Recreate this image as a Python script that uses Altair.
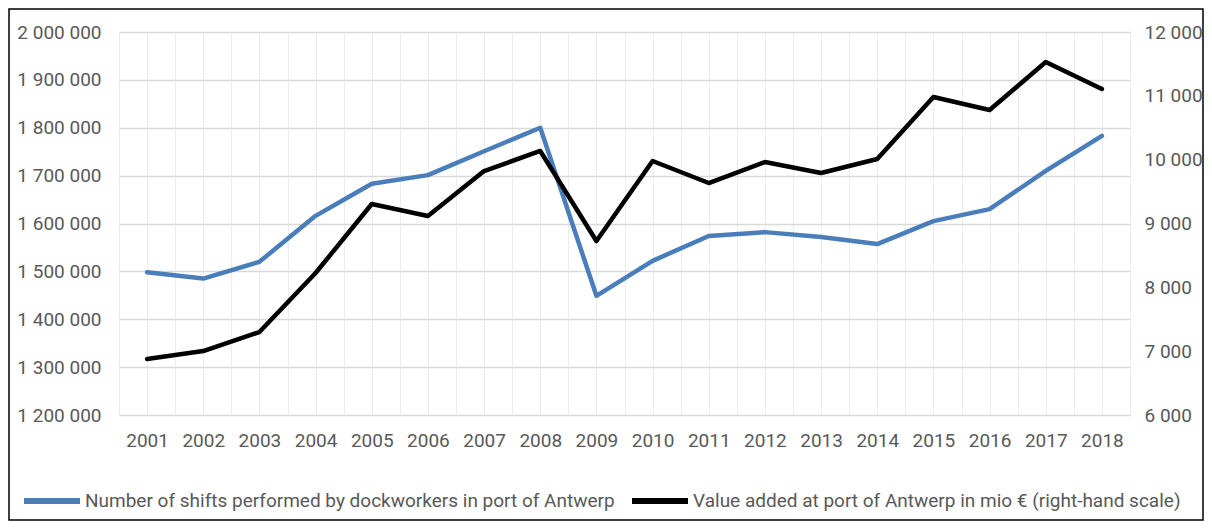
import altair as alt
import pandas as pd

years = list(range(2001, 2019))
shifts = [1498000, 1485000, 1520000, 1616000, 1683000, 1701000, 1751000, 1800000,
          1449000, 1522000, 1574000, 1582000, 1572000, 1557000, 1605000, 1630000,
          1710000, 1783000]
value_added = [6877, 7002, 7300, 8224, 9305, 9117, 9822, 10136, 8726, 9979, 9634,
               9963, 9791, 10010, 10982, 10778, 11530, 11107]
series_names = ["Number of shifts performed by dockworkers in port of Antwerp",
                "Value added at port of Antwerp in mio € (right-hand scale)"]
series_colors = ["#4a7ebb", "#000000"]
left_ticks = list(range(1200000, 2000001, 100000))
right_ticks = list(range(6000, 12001, 1000))

df = pd.DataFrame({"year": years, "shifts": shifts, "value_added": value_added})

FONT = "Roboto"
GREY = "#595959"
FS = 19
space_fmt = "replace(format(datum.value, ','), regexp(',', 'g'), ' ')"

x_values = sorted(set([y - 0.5 for y in years] + [float(y) for y in years] + [years[-1] + 0.5]))
x_enc = alt.X("year:Q",
              scale=alt.Scale(domain=[years[0] - 0.5, years[-1] + 0.5], nice=False, zero=False),
              axis=alt.Axis(values=x_values, format=".1f",
                            labelExpr="datum.value % 1 == 0 ? format(datum.value, 'd') : ''",
                            grid=True, gridColor="#ececec", gridWidth=1,
                            ticks=False, domain=False, labelPadding=16, labelOverlap=False,
                            title=None, labelFontSize=FS, labelColor=GREY, labelFont=FONT))

color_enc = alt.Color("series:N",
                      scale=alt.Scale(domain=series_names, range=series_colors),
                      legend=alt.Legend(title=None, orient="none", direction="horizontal",
                                        legendX=-98, legendY=438,
                                        symbolType="stroke", symbolSize=3136,
                                        symbolStrokeWidth=6, labelFontSize=19,
                                        labelColor=GREY, labelFont=FONT, labelLimit=0,
                                        labelOffset=2, columnPadding=5))

base = alt.Chart(df)

left = base.transform_calculate(series=f"'{series_names[0]}'").mark_line(
    strokeWidth=4.5, strokeJoin="round", strokeCap="round").encode(
    x=x_enc,
    y=alt.Y("shifts:Q", scale=alt.Scale(domain=[left_ticks[0], left_ticks[-1]], nice=False, zero=False),
            axis=alt.Axis(values=left_ticks, labelExpr=space_fmt, grid=True, gridColor="#d9d9d9",
                          gridWidth=1.5, ticks=False, domain=False, labelPadding=18, title=None,
                          labelFontSize=FS, labelColor=GREY, labelFont=FONT, orient="left")),
    color=color_enc,
)

right = base.transform_calculate(series=f"'{series_names[1]}'").mark_line(
    strokeWidth=4.5, strokeJoin="round", strokeCap="round").encode(
    x=x_enc,
    y=alt.Y("value_added:Q", scale=alt.Scale(domain=[right_ticks[0], right_ticks[-1]], nice=False, zero=False),
            axis=alt.Axis(values=right_ticks, labelExpr=space_fmt, grid=False, ticks=False,
                          domain=False, labelPadding=14, title=None, labelFontSize=FS,
                          labelColor=GREY, labelFont=FONT, orient="right")),
    color=color_enc,
)

border = alt.Chart(pd.DataFrame({"b": [0]})).mark_rect(
    fillOpacity=0, stroke="#000000", strokeWidth=1.5).encode(
    x=alt.value(-110), x2=alt.value(1084), y=alt.value(-23), y2=alt.value(488))

chart = alt.layer(left, right, border).resolve_scale(y="independent").properties(
    width=1011, height=383,
    padding={"left": 111, "top": 24, "right": 74, "bottom": 107},
    autosize=alt.AutoSizeParams(type="none"),
).configure_view(stroke=None).configure(background="white")

chart.save("out.html", embed_options={"renderer": "svg", "actions": False})
